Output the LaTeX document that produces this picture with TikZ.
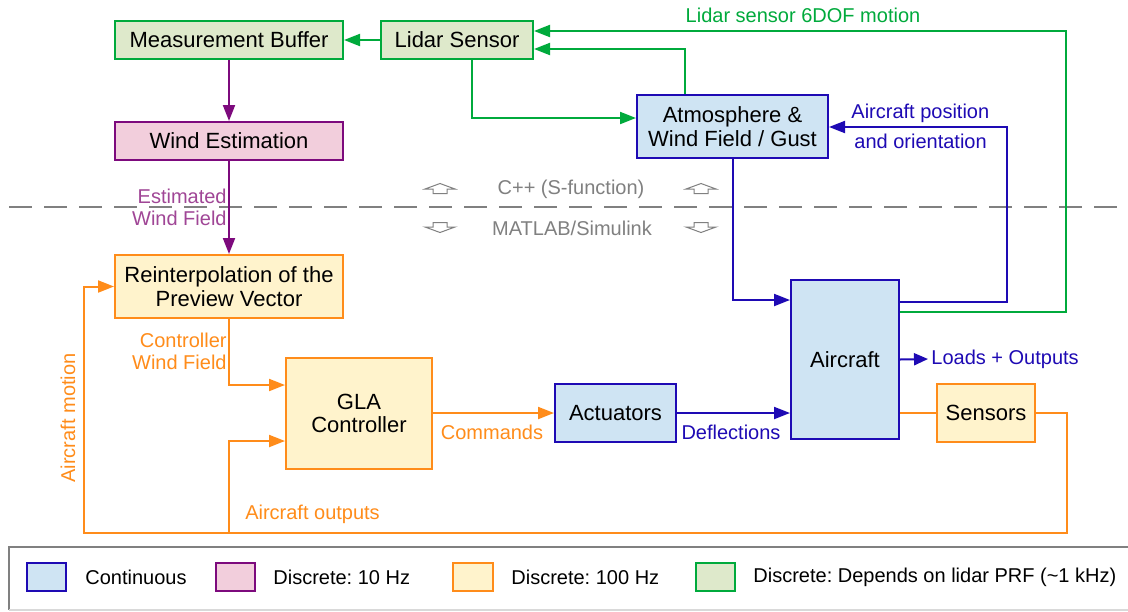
\documentclass[tikz,border=0pt]{standalone}
\usepackage{fontspec}
\setmainfont{Liberation Sans}
\usetikzlibrary{arrows.meta}
\frenchspacing
\definecolor{cblue}{RGB}{30,10,180}
\definecolor{cbluefill}{RGB}{207,228,243}
\definecolor{cpurple}{RGB}{125,10,125}
\definecolor{cpurplefill}{RGB}{242,206,220}
\definecolor{cpurplelbl}{RGB}{160,70,150}
\definecolor{corange}{RGB}{255,140,26}
\definecolor{corangefill}{RGB}{255,243,204}
\definecolor{cgreen}{RGB}{0,170,60}
\definecolor{cgreenfill}{RGB}{222,233,203}
\definecolor{cgray}{RGB}{128,128,128}
\begin{document}
\begin{tikzpicture}[x=0.5pt,y=-0.5pt,
  box/.style={draw, line width=1pt, inner sep=0pt, align=center, text=black,
    font=\fontsize{11}{11.8}\selectfont},
  bluebox/.style={box, draw=cblue, fill=cbluefill},
  purplebox/.style={box, draw=cpurple, fill=cpurplefill},
  orangebox/.style={box, draw=corange, fill=corangefill},
  greenbox/.style={box, draw=cgreen, fill=cgreenfill},
  lbl/.style={font=\fontsize{10}{11.2}\selectfont, inner sep=0pt},
  leg/.style={font=\fontsize{10}{11.2}\selectfont, inner sep=0pt, anchor=west, text=black},
  conn/.style={line width=1pt},
  tip/.style={-{Triangle[length=8pt,width=6pt]}},
  barr/.style={conn, draw=cblue},
  parr/.style={conn, draw=cpurple},
  oarr/.style={conn, draw=corange},
  garr/.style={conn, draw=cgreen},
  hollow/.style={draw=cgray, line width=0.5pt, line join=miter},
  uparrow/.pic={\draw[hollow] (-15,1) -- (0,-4.5) -- (15,1) -- (7,1) -- (7,5.5) -- (-7,5.5) -- (-7,1) -- cycle;},
  downarrow/.pic={\draw[hollow] (-15,-1) -- (0,4.5) -- (15,-1) -- (7,-1) -- (7,-5.5) -- (-7,-5.5) -- (-7,-1) -- cycle;},
]
\useasboundingbox (0,0) rectangle (1128,611);
\fill[white] (0,0) rectangle (1128,611);

% separator
\draw[cgray, line width=1.25pt, dash pattern=on 11.5pt off 6pt] (9,207) -- (1128,207);
\pic at (440,188) {uparrow};
\pic at (701,188) {uparrow};
\pic at (440,228) {downarrow};
\pic at (701,228) {downarrow};
\node[lbl, text=cgray] (cpp) at (571,189) {C++ (S-function)};
\node[lbl, text=cgray] (mat) at (572,228) {MATLAB/Simulink};

% boxes
\node[greenbox, minimum width=114pt, minimum height=19pt] (mb) at (229,40) {Measurement Buffer};
\node[greenbox, minimum width=76pt, minimum height=19pt] (lidar) at (457,40) {Lidar Sensor};
\node[purplebox, minimum width=114pt, minimum height=19pt] (we) at (229,141) {Wind Estimation};
\node[bluebox, minimum width=95.5pt, minimum height=31.5pt] (atm) at (732.5,126.5) {Atmosphere \&\\Wind Field / Gust};
\node[orangebox, minimum width=114pt, minimum height=31.5pt] (reint) at (229,286.5) {Reinterpolation of the\\Preview Vector};
\node[orangebox, minimum width=73pt, minimum height=55.5pt] (gla) at (359,413.5) {GLA\\Controller};
\node[bluebox, minimum width=60.5pt, minimum height=29pt] (act) at (615.5,413) {Actuators};
\node[bluebox, minimum width=54pt, minimum height=79.5pt] (ac) at (845,359.5) {Aircraft};
\node[orangebox, minimum width=49pt, minimum height=29pt] (sens) at (986,413) {Sensors};

% coordinates
\coordinate (g1) at (1066,31);
\coordinate (b1) at (1007,127);
\coordinate (br) at (1067,533);
\coordinate (bl) at (84,533);
\coordinate (bm) at (229,533);

% connectors top
\draw[garr, tip] (lidar) -- (mb);
\draw[parr, tip] (mb) -- (we);
\draw[parr, tip] (we) -- (reint);
\draw[garr, tip] ([xshift=7.5pt]lidar.south) |- ([yshift=4.25pt]atm.west);
\draw[garr, tip] ([xshift=-23.75pt]atm.north) |- ([yshift=-4.5pt]lidar.east);
\draw[garr, tip] ([yshift=23.75pt]ac.east) -| (g1) -- ([yshift=4.5pt]lidar.east);
\draw[barr, tip] ([yshift=28.75pt]ac.east) -| (b1) -- (b1 -| atm.east);
\draw[barr, tip] (atm.south) |- ([yshift=29.75pt]ac.west);

% connectors bottom
\node[lbl, text=cblue, anchor=west, inner sep=1.5pt] (loads) at (928,359) {Loads + Outputs};
\draw[barr, -{Triangle[length=7pt,width=6pt]}] (ac.east) -- (loads.west);
\draw[oarr, tip] (reint.south) |- ([yshift=14.25pt]gla.west);
\draw[oarr, tip] (act.west -| gla.east) -- (act.west);
\draw[barr, tip] (act.east) -- (act.east -| ac.west);
\draw[oarr] (sens.west -| ac.east) -- (sens.west);
\draw[oarr, tip] (sens.east) -| (br) -- (bl) |- (reint.west);
\draw[oarr, tip] (bm) |- ([yshift=-13.75pt]gla.west);

% labels
\node[lbl, text=cgreen] (l6dof) at (803,15) {Lidar sensor 6DOF motion};
\node[lbl, text=cblue, anchor=west] (lpos) at (851,113) {Aircraft position};
\node[lbl, text=cblue, anchor=west] (lori) at (854,141) {and orientation};
\node[lbl, text=cpurplelbl, anchor=east, align=right] (lest) at (227,207.5) {Estimated\\Wind Field};
\node[lbl, text=corange, anchor=east, align=right] (lcwf) at (227,351.5) {Controller\\Wind Field};
\node[lbl, text=corange] (lcmd) at (492,432) {Commands};
\node[lbl, text=cblue] (ldefl) at (731,432) {Deflections};
\node[lbl, text=corange] (laout) at (312.5,514) {Aircraft outputs};
\node[lbl, text=corange, rotate=90] (lamot) at (68,418) {Aircraft motion};

% legend
\draw[cgray, line width=1pt] (9,610) -- (9,547) -- (1140,547);
\draw[gray!30, line width=1pt] (9,610) -- (1140,610);
\node[bluebox, minimum width=19.5pt, minimum height=14pt] (sw1) at (46.5,577) {};
\node[purplebox, minimum width=19.5pt, minimum height=14pt] (sw2) at (235.5,577) {};
\node[orangebox, minimum width=20pt, minimum height=14pt] (sw3) at (473,577) {};
\node[greenbox, minimum width=19.5pt, minimum height=14pt] (sw4) at (715.5,577) {};
\node[leg] (t1) at (85,577) {Continuous};
\node[leg] (t2) at (273,577) {Discrete: 10 Hz};
\node[leg] (t3) at (511,577) {Discrete: 100 Hz};
\node[leg] (t4) at (753,577) {Discrete: Depends on lidar PRF (\char`~1 kHz)};
\end{tikzpicture}
\end{document}
